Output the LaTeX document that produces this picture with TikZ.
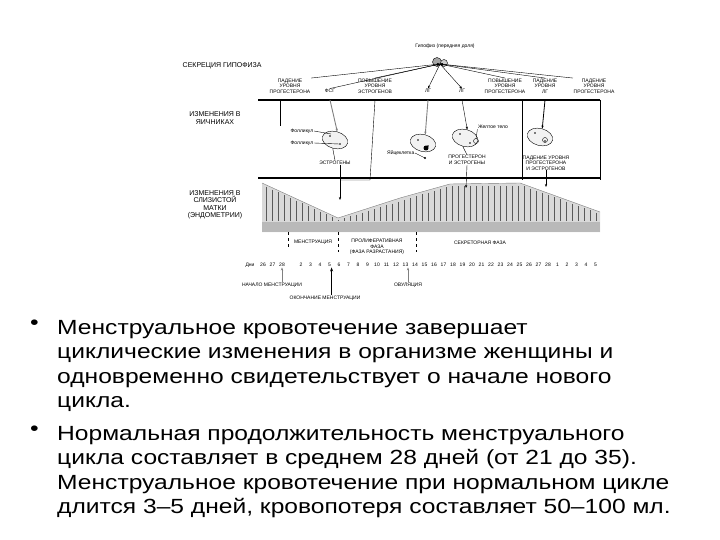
\documentclass[tikz,border=0pt]{standalone}
\usepackage{fontspec}
\setmainfont{Liberation Sans}
\newfontfamily\wide[FakeStretch=1.2]{Liberation Sans}
\usetikzlibrary{arrows.meta,shapes.geometric}
\begin{document}
\begin{tikzpicture}[x=1pt,y=-1pt,
  sm/.style={font=\fontsize{5}{5.5}\selectfont,align=center,inner sep=0.5pt},
  hd/.style={font=\fontsize{7}{7.5}\selectfont,align=center,inner sep=0.5pt},
  bl/.style={font=\wide\fontsize{20.5}{24.5}\selectfont,align=left,anchor=north west,inner sep=0pt},
  ar/.style={-{Stealth[length=3pt]},thin},
  gar/.style={-{Stealth[length=3pt]},gray,line width=0.9pt},
  thk/.style={line width=1.6pt},
  ov/.style={draw,fill=gray!10,ellipse,minimum width=26pt,minimum height=17pt,rotate=-15}]
\useasboundingbox (0,0) rectangle (720,540);
\fill[white] (0,0) rectangle (720,540);
% headers
\node[sm] (pitl) at (445,46) {Гипофиз (передняя доля)};
\node[hd,anchor=west] (hs) at (182,66) {СЕКРЕЦИЯ ГИПОФИЗА};
\node[hd] (ho) at (215,118) {ИЗМЕНЕНИЯ В\\ЯИЧНИКАХ};
\node[hd] (he) at (215,205) {ИЗМЕНЕНИЯ В\\СЛИЗИСТОЙ\\МАТКИ\\(ЭНДОМЕТРИИ)};
% pituitary
\fill[gray!70] (437,62) circle (4.5);\draw (437,62) circle (4.5);
\fill[gray!40] (444,63) circle (3.5);\draw (444,63) circle (3.5);
\coordinate (pit) at (440,64);
% label row
\node[sm] (l1) at (290,86) {ПАДЕНИЕ\\УРОВНЯ\\ПРОГЕСТЕРОНА};
\node[sm] (l2) at (330,91) {ФСГ};
\node[sm] (l3) at (375,86) {ПОВЫШЕНИЕ\\УРОВНЯ\\ЭСТРОГЕНОВ};
\node[sm] (l4) at (428,91) {ЛГ};
\node[sm] (l5) at (462,91) {ЛГ};
\node[sm] (l6) at (505,86) {ПОВЫШЕНИЕ\\УРОВНЯ\\ПРОГЕСТЕРОНА};
\node[sm] (l7) at (545,86) {ПАДЕНИЕ\\УРОВНЯ\\ЛГ};
\node[sm] (l8) at (594,86) {ПАДЕНИЕ\\УРОВНЯ\\ПРОГЕСТЕРОНА};
\draw[ar] (l1.north east) -- (pit);
\draw[ar] (l2.north) -- (pit);
\draw[ar] (l3.north) -- (pit);
\draw[ar] (pit) -- (l4.north);
\draw[ar] (pit) -- (l5.north);
\draw[ar] (l6.north) -- (pit);
\draw[ar] (l7.north) -- (pit);
\draw[ar] (l8.north west) -- (pit);
% lines
\draw[thk] (258,100) -- (600,100);
\draw[thk] (258,178) -- (600,178);
% ovaries
\node[ov] (o1) at (335,140) {};
\node[ov] (o2) at (423,143) {};
\node[ov] (o3) at (465,138) {};
\node[ov] (o4) at (540,137) {};
\foreach \p in {(330,136),(340,144),(418,140),(428,146),(460,134),(470,143),(535,133),(545,141)} \fill \p circle (0.8);
\fill (426,148) circle (2.5); \draw (476,141) circle (2.5); \draw (545,140) circle (2.5);
\node[sm,anchor=east] (t1) at (314,131) {Фолликул};
\node[sm,anchor=east] (t2) at (314,143) {Фолликул};
\draw (t1.east) -- (331,134); \draw (t2.east) -- (339,144);
\node[sm] (t3) at (335,163) {ЭСТРОГЕНЫ};
\draw (o1.south) -- (t3.north);
\node[sm,anchor=east] (t4) at (415,153) {Яйцеклетка};
\coordinate (egg) at (425,158); \fill (egg) circle (1.2);
\draw (t4.east) -- (egg);
\node[sm] (t5) at (493,127) {Желтое тело};
\draw (t5.south west) -- (476,139);
\node[sm] (t6) at (467,160) {ПРОГЕСТЕРОН\\И ЭСТРОГЕНЫ};
\node[sm] (t7) at (546,163) {ПАДЕНИЕ УРОВНЯ\\ПРОГЕСТЕРОНА\\И ЭСТРОГЕНОВ};
\draw (o3.south) -- (t6.north);
% vertical arrows top
\draw (280,100) -- (280,126);
\draw[gar] (330,100) -- (o1.north);
\draw[gar] (428,100) -- (o2.north);
\draw[ar] (462,100) -- (o3.north);
\draw[ar,line width=0.8pt] (545,100) -- (o4.north);
\draw (522,100) -- (522,180);
\draw (600,100) -- (600,180);
% endometrium
\fill[gray!30] (262,232) -- (262,183) -- (338,218) -- (400,198) -- (450,184) -- (520,183) -- (600,212) -- (600,232) -- cycle;
\fill[gray!55] (262,222) rectangle (600,232);
\foreach \x in {266,272,...,596} {
  \pgfmathsetmacro{\t}{\x<338 ? 183+(\x-262)*35/76 : (\x<450 ? 218-(\x-338)*34/112 : (\x<520 ? 184 : 183+(\x-520)*29/80))}
  \draw[gray!70!black,line width=0.4pt] (\x,\t+2) -- (\x,221);}
\draw[gray] (262,183) -- (338,218) -- (400,198) -- (450,184) -- (520,183) -- (600,212);
% endometrium arrows
\draw (375,100) -- (370,180) -- (340,180);
\draw[ar] (340,165) -- (340,200);
\draw[ar] (t6.south) -- (466,188);
\draw[ar] (546,170) -- (546,187);
% phase labels
\draw[dashed] (288,232) -- (288,248);
\draw[dashed] (338,232) -- (338,252);
\draw[dashed] (416,232) -- (416,252);
\node[sm] (ph1) at (313,242) {МЕНСТРУАЦИЯ};
\node[sm] (ph2) at (377,247) {ПРОЛИФЕРАТИВНАЯ\\ФАЗА\\(ФАЗА РАЗРАСТАНИЯ)};
\node[sm] (ph3) at (480,243) {СЕКРЕТОРНАЯ ФАЗА};
% days
\node[sm] (days) at (250,265) {Дни};
\foreach \d [count=\i from 0] in {26,27,28,,2,3,4,5,6,7,8,9,10,11,12,13,14,15,16,17,18,19,20,21,22,23,24,25,26,27,28,1,2,3,4,5}
  \node[sm] (d\i) at (263+\i*9.5,265) {\d};
\node[sm] (a1) at (272,285) {НАЧАЛО МЕНСТРУАЦИИ};
\node[sm] (a2) at (325,298) {ОКОНЧАНИЕ МЕНСТРУАЦИИ};
\node[sm] (a3) at (408,285) {ОВУЛЯЦИЯ};
\draw[gar,line width=0.6pt] (a1.north -| d2) -- (d2.south);
\draw[-{Stealth[length=4pt]},line width=1.4pt] (a2.north -| d7.east) -- (d7.south east);
\draw[gar,line width=0.6pt] (a3.north) -- (a3.north |- d16.south);
% bullets
\node[bl] (b1) at (30,320) {•};
\node[bl,text width=680pt] (p1) at (57,320) {Менструальное кровотечение завершает\\циклические изменения в организме женщины и\\одновременно свидетельствует о начале нового\\цикла.};
\node[bl] (b2) at (30,426) {•};
\node[bl,text width=680pt] (p2) at (57,426) {Нормальная продолжительность менструального\\цикла составляет в среднем 28 дней (от 21 до 35).\\Менструальное кровотечение при нормальном цикле\\длится 3–5 дней, кровопотеря составляет 50–100 мл.};
\end{tikzpicture}
\end{document}
